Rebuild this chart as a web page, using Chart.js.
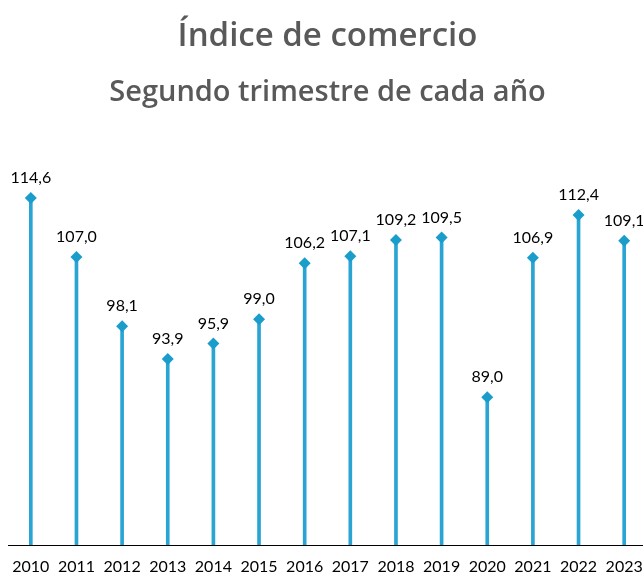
<!DOCTYPE html>
<html lang="es">
<head>
<meta charset="utf-8">
<title>Índice de comercio</title>
<script src="https://cdn.jsdelivr.net/npm/chart.js@4/dist/chart.umd.min.js"></script>
<style>
  html, body { margin: 0; padding: 0; background: #fff; overflow: hidden; }
  #wrap { width: 647px; height: 574px; position: relative; }
</style>
</head>
<body>
<div id="wrap"><canvas id="chart"></canvas></div>
<script>
// datos
const years = ['2010', '2011', '2012', '2013', '2014', '2015', '2016',
               '2017', '2018', '2019', '2020', '2021', '2022', '2023'];
const indexValues = [114.6, 107.0, 98.1, 93.9, 95.9, 99.0, 106.2,
                     107.1, 109.2, 109.5, 89.0, 106.9, 112.4, 109.1];
const yMin = 70;
const yMax = 120;

const STEM = '#29a4d3';
const DOT = '#1b9dcc';
const FONT = 'Lato, "Open Sans", sans-serif';
const TITLE_FONT = '"Open Sans", Lato, sans-serif';

// etiqueta con coma decimal encima de cada rombo
const valueLabels = {
  id: 'valueLabels',
  afterDatasetsDraw(chart) {
    const { ctx } = chart;
    const meta = chart.getDatasetMeta(1);
    ctx.save();
    ctx.font = '16px ' + FONT;
    ctx.fillStyle = '#000';
    ctx.textAlign = 'center';
    ctx.textBaseline = 'middle';
    meta.data.forEach((pt, i) => {
      const txt = indexValues[i].toFixed(1).replace('.', ',');
      ctx.fillText(txt, pt.x, pt.y - 20);
    });
    ctx.restore();
  }
};

new Chart(document.getElementById('chart'), {
  type: 'bar',
  data: {
    labels: years,
    datasets: [
      {
        type: 'bar',
        data: indexValues,
        backgroundColor: STEM,
        barThickness: 3,
        order: 1
      },
      {
        type: 'line',
        data: indexValues,
        showLine: false,
        pointStyle: 'rectRot',
        pointRadius: 6,
        pointHoverRadius: 6,
        pointBackgroundColor: DOT,
        pointBorderColor: DOT,
        pointBorderWidth: 0,
        clip: false,
        order: 0
      }
    ]
  },
  options: {
    responsive: true,
    maintainAspectRatio: false,
    animation: false,
    layout: { autoPadding: false, padding: { left: 8, right: 0, top: 0, bottom: 0 } },
    plugins: {
      legend: { display: false },
      tooltip: { enabled: false },
      title: {
        display: true,
        text: 'Índice de comercio',
        color: '#595959',
        font: { family: TITLE_FONT, size: 33, weight: '600' },
        padding: { top: 17, bottom: 18.5 }
      },
      subtitle: {
        display: true,
        text: 'Segundo trimestre de cada año',
        color: '#595959',
        font: { family: TITLE_FONT, size: 29, weight: '600' },
        padding: { top: 0, bottom: 46 }
      }
    },
    scales: {
      x: {
        offset: true,
        grid: { display: false, drawTicks: false },
        border: { display: true, color: '#000', width: 1 },
        ticks: {
          color: '#000',
          font: { family: FONT, size: 16 },
          padding: 12,
          maxRotation: 0,
          autoSkip: false
        },
        afterFit(scale) {
          scale.height = 29;
          scale.paddingLeft = 0;
          scale.paddingRight = 0;
        }
      },
      y: {
        display: false,
        min: yMin,
        max: yMax
      }
    }
  },
  plugins: [valueLabels]
});
</script>
</body>
</html>
